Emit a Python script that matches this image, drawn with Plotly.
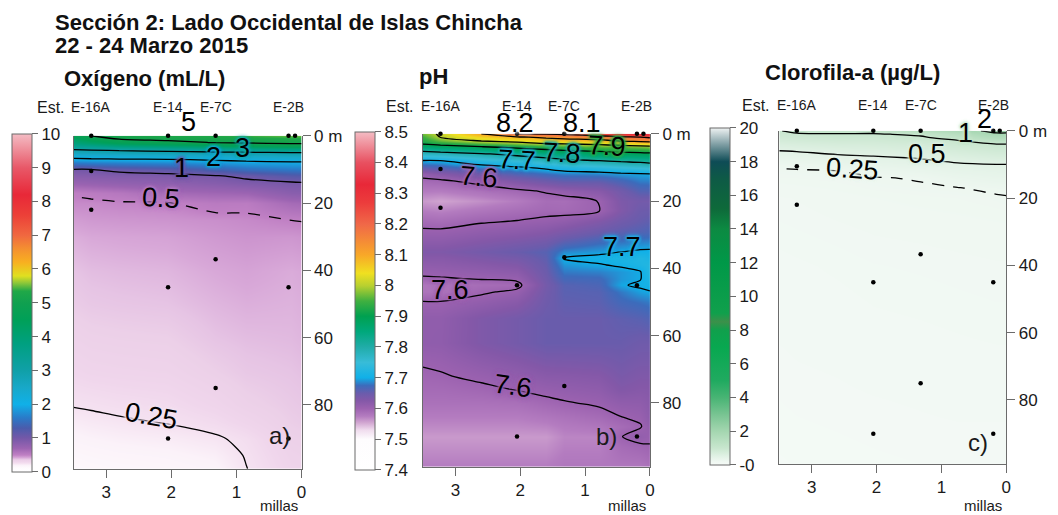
import numpy as np
import plotly.graph_objects as go

FONT = "Liberation Sans, Arial, Helvetica, sans-serif"
INK = "#1a1a1a"
AXIS = "#6b6b6b"
W, H = 1058, 515

# ---------------- sampling stations ----------------
station_names = ["E-16A", "E-14", "E-7C", "E-2B"]
station_miles = [3.23, 2.05, 1.32, 0.2]
sample_miles = [3.23, 2.05, 1.32, 0.2, 0.1, 3.23, 3.23, 1.32, 2.05, 0.2, 1.32, 2.05, 0.2]
sample_depths = [0, 0, 0, 0, 0, 10.5, 22, 36.7, 45, 45, 75, 90, 90]

# ---------------- dissolved oxygen (mL/L) ----------------
# one profile per distance offshore (miles), values at ox_depths
ox_miles = [0, 0.15, 0.85, 1.32, 2.05, 2.8, 3.23, 3.5]
ox_depths = [0, 1, 2, 3, 4, 5, 6, 7, 8, 10, 12, 14, 17, 20, 25, 30, 40, 50, 60, 70, 80, 85, 90, 95, 99]
ox_profiles = [
    [5.5, 5.3, 5.13, 4.74, 3.87, 3.0, 2.62, 2.23, 1.93, 1.58, 1.23, 0.98, 0.85, 0.66, 0.505, 0.46, 0.42, 0.41, 0.40, 0.385, 0.37, 0.36, 0.345, 0.33, 0.32],
    [5.5, 5.3, 5.13, 4.74, 3.87, 3.0, 2.62, 2.23, 1.93, 1.57, 1.21, 0.97, 0.84, 0.65, 0.502, 0.455, 0.415, 0.405, 0.395, 0.38, 0.365, 0.355, 0.34, 0.325, 0.315],
    [5.4, 5.25, 5.08, 4.57, 3.7, 2.92, 2.54, 2.15, 1.88, 1.47, 1.06, 0.92, 0.70, 0.53, 0.48, 0.46, 0.43, 0.41, 0.39, 0.37, 0.34, 0.31, 0.27, 0.255, 0.248],
    [5.35, 5.2, 5.03, 4.36, 3.56, 2.88, 2.48, 2.08, 1.81, 1.33, 0.97, 0.87, 0.68, 0.54, 0.47, 0.45, 0.42, 0.40, 0.38, 0.35, 0.31, 0.28, 0.24, 0.21, 0.19],
    [5.3, 5.13, 4.85, 4.11, 3.37, 2.8, 2.4, 2.0, 1.71, 1.14, 0.92, 0.81, 0.65, 0.495, 0.46, 0.43, 0.40, 0.38, 0.35, 0.32, 0.28, 0.255, 0.22, 0.19, 0.17],
    [5.2, 5.0, 4.6, 3.9, 3.2, 2.75, 2.36, 1.97, 1.66, 1.07, 0.9, 0.78, 0.56, 0.49, 0.455, 0.425, 0.395, 0.375, 0.345, 0.315, 0.27, 0.24, 0.21, 0.18, 0.16],
    [5.0, 4.75, 4.2, 3.6, 3.1, 2.69, 2.31, 1.94, 1.63, 1.0, 0.875, 0.75, 0.53, 0.48, 0.45, 0.42, 0.39, 0.37, 0.34, 0.31, 0.26, 0.23, 0.20, 0.17, 0.15],
    [4.7, 4.3, 3.9, 3.5, 3.05, 2.65, 2.27, 1.91, 1.59, 0.99, 0.86, 0.73, 0.51, 0.48, 0.44, 0.41, 0.38, 0.36, 0.33, 0.30, 0.255, 0.22, 0.19, 0.16, 0.14],
]
ox_levels = [0.25, 0.5, 1, 2, 3, 5]
ox_dashed = [0.5]
ox_ticks = list(range(0, 11))

# ---------------- pH ----------------
ph_miles = [0, 0.15, 0.45, 0.78, 1.32, 1.6, 2.05, 2.6, 3.23, 3.5]
ph_depths = [0, 1, 2, 3, 4, 5, 6, 8, 10, 12, 14, 17, 20, 23, 26, 29, 32, 35, 37, 39, 41, 43, 45, 47,
             50, 55, 62, 68, 72, 76, 80, 84, 87, 90, 93, 99]
ph_profiles = [
    [8.36, 8.214, 8.136, 8.05, 7.976, 7.929, 7.887, 7.823, 7.757, 7.698, 7.683, 7.662, 7.64, 7.648, 7.655, 7.666, 7.685, 7.704,
     7.714, 7.725, 7.726, 7.718, 7.71, 7.698, 7.681, 7.663, 7.645, 7.636, 7.63, 7.624, 7.62, 7.617, 7.611, 7.605, 7.598, 7.585],
    [8.33, 8.2, 8.129, 8.04, 7.971, 7.924, 7.883, 7.817, 7.75, 7.696, 7.682, 7.661, 7.64, 7.646, 7.651, 7.662, 7.683, 7.704,
     7.721, 7.718, 7.698, 7.698, 7.705, 7.694, 7.677, 7.659, 7.645, 7.636, 7.63, 7.623, 7.614, 7.605, 7.598, 7.61, 7.595, 7.58],
    [8.3, 8.186, 8.114, 8.027, 7.967, 7.919, 7.879, 7.81, 7.743, 7.692, 7.668, 7.642, 7.632, 7.629, 7.642, 7.657, 7.678, 7.699,
     7.72, 7.704, 7.691, 7.691, 7.697, 7.68, 7.671, 7.655, 7.65, 7.641, 7.635, 7.627, 7.613, 7.6, 7.59, 7.599, 7.59, 7.58],
    [8.25, 8.164, 8.08, 8.013, 7.96, 7.91, 7.871, 7.8, 7.733, 7.685, 7.655, 7.621, 7.601, 7.6, 7.627, 7.648, 7.672, 7.693,
     7.708, 7.698, 7.683, 7.672, 7.666, 7.66, 7.657, 7.65, 7.65, 7.635, 7.624, 7.614, 7.604, 7.591, 7.58, 7.57, 7.573, 7.58],
    [8.22, 8.136, 8.063, 8.0, 7.947, 7.896, 7.858, 7.784, 7.722, 7.682, 7.654, 7.611, 7.588, 7.592, 7.611, 7.633, 7.658, 7.686,
     7.702, 7.69, 7.68, 7.67, 7.66, 7.658, 7.655, 7.65, 7.65, 7.633, 7.621, 7.61, 7.598, 7.584, 7.576, 7.57, 7.573, 7.58],
    [8.21, 8.118, 8.053, 7.994, 7.935, 7.883, 7.842, 7.77, 7.709, 7.675, 7.646, 7.603, 7.589, 7.593, 7.606, 7.624, 7.642, 7.66,
     7.656, 7.652, 7.648, 7.644, 7.64, 7.642, 7.645, 7.65, 7.65, 7.632, 7.62, 7.607, 7.594, 7.58, 7.57, 7.56, 7.565, 7.575],
    [8.2, 8.088, 8.029, 7.971, 7.912, 7.864, 7.818, 7.75, 7.694, 7.663, 7.631, 7.594, 7.575, 7.588, 7.601, 7.617, 7.634, 7.65,
     7.639, 7.628, 7.617, 7.606, 7.592, 7.606, 7.62, 7.64, 7.64, 7.623, 7.612, 7.601, 7.587, 7.575, 7.568, 7.56, 7.565, 7.575],
    [8.1, 8.055, 8.009, 7.95, 7.89, 7.84, 7.794, 7.731, 7.682, 7.646, 7.611, 7.584, 7.565, 7.581, 7.597, 7.612, 7.626, 7.64,
     7.631, 7.621, 7.612, 7.602, 7.589, 7.596, 7.61, 7.63, 7.63, 7.615, 7.605, 7.595, 7.585, 7.575, 7.568, 7.56, 7.565, 7.575],
    [8.01, 8.002, 7.964, 7.918, 7.87, 7.82, 7.777, 7.7, 7.662, 7.623, 7.595, 7.575, 7.555, 7.572, 7.588, 7.604, 7.617, 7.63,
     7.622, 7.615, 7.607, 7.598, 7.583, 7.582, 7.601, 7.613, 7.614, 7.604, 7.598, 7.591, 7.585, 7.575, 7.568, 7.56, 7.565, 7.575],
    [7.97, 7.948, 7.926, 7.904, 7.86, 7.81, 7.77, 7.698, 7.654, 7.611, 7.592, 7.576, 7.56, 7.575, 7.59, 7.604, 7.617, 7.63,
     7.622, 7.614, 7.606, 7.597, 7.582, 7.582, 7.601, 7.613, 7.613, 7.602, 7.596, 7.591, 7.585, 7.575, 7.568, 7.56, 7.565, 7.575],
]
ph_levels = [7.6, 7.7, 7.8, 7.9, 8.0, 8.1, 8.2]
ph_dashed = []
ph_ticks = [7.4, 7.5, 7.6, 7.7, 7.8, 7.9, 8.0, 8.1, 8.2, 8.3, 8.4, 8.5]

# ---------------- chlorophyll-a (ug/L) ----------------
chl_miles = [0, 0.15, 0.75, 1.32, 2.05, 2.6, 3.23, 3.5]
chl_depths = [0, 1, 2, 3, 4, 6, 8, 10, 12, 14, 17, 20, 30, 40, 60, 80, 99]
chl_profiles = [
    [2.2, 1.88, 1.57, 1.25, 0.98, 0.82, 0.66, 0.5, 0.44, 0.375, 0.28, 0.24, 0.2, 0.18, 0.155, 0.125, 0.1],
    [2.2, 1.88, 1.57, 1.25, 0.984, 0.82, 0.656, 0.497, 0.434, 0.37, 0.275, 0.235, 0.2, 0.18, 0.155, 0.125, 0.1],
    [1.7, 1.43, 1.16, 0.97, 0.894, 0.742, 0.59, 0.471, 0.4, 0.329, 0.245, 0.225, 0.195, 0.175, 0.15, 0.125, 0.1],
    [1.4, 1.067, 0.943, 0.871, 0.8, 0.657, 0.514, 0.425, 0.342, 0.258, 0.238, 0.22, 0.19, 0.17, 0.145, 0.12, 0.1],
    [1.15, 0.963, 0.89, 0.816, 0.743, 0.596, 0.469, 0.382, 0.294, 0.243, 0.228, 0.21, 0.185, 0.165, 0.14, 0.115, 0.095],
    [1.1, 0.983, 0.9, 0.817, 0.733, 0.567, 0.44, 0.34, 0.245, 0.232, 0.215, 0.2, 0.175, 0.155, 0.13, 0.11, 0.09],
    [1.1, 0.947, 0.86, 0.772, 0.684, 0.509, 0.392, 0.278, 0.24, 0.225, 0.205, 0.185, 0.165, 0.145, 0.125, 0.105, 0.085],
    [0.98, 0.9, 0.82, 0.74, 0.65, 0.494, 0.38, 0.267, 0.238, 0.223, 0.2, 0.18, 0.16, 0.14, 0.12, 0.1, 0.08],
]
chl_levels = [0.25, 0.5, 1, 2]
chl_dashed = [0.25]
chl_ticks = list(range(0, 21, 2))
chl_ticktext = ["-0"] + [str(v) for v in chl_ticks[1:]]

# ---------------- colour scales ----------------
ox_scale = [
    [0.0, "#ffffff"], [0.012, "#fefbfd"], [0.02, "#fbf2f9"], [0.025, "#f5e2f1"], [0.03, "#f0d6ec"],
    [0.035, "#ecd0e8"], [0.038, "#e6c4e4"], [0.042, "#d8a8d8"], [0.05, "#c080c4"], [0.07, "#9c64b2"],
    [0.1, "#7458a8"], [0.13, "#4a5cac"], [0.16, "#2a7ac8"], [0.2, "#10b0e8"], [0.25, "#18a8c8"],
    [0.3, "#10a0a8"], [0.38, "#00a080"], [0.45, "#00a058"], [0.5, "#10a050"], [0.535, "#20a848"],
    [0.56, "#90c838"], [0.58, "#e0e020"], [0.62, "#f8b020"], [0.66, "#f49030"], [0.7, "#f06840"],
    [0.76, "#ec4038"], [0.82, "#e82838"], [0.9, "#e85868"], [1.0, "#f4bcc4"],
]
ph_scale = [
    [0.0, "#ffffff"], [0.0909, "#fefcfe"], [0.118, "#f0dcee"], [0.141, "#d0a4d0"], [0.159, "#b47cc0"],
    [0.182, "#9c62b0"], [0.205, "#8458a8"], [0.227, "#6a5cac"], [0.25, "#3c6cbc"], [0.273, "#10b0e8"],
    [0.318, "#38bcd8"], [0.364, "#20aca8"], [0.409, "#00a87c"], [0.455, "#00a050"], [0.5, "#40b040"],
    [0.545, "#b8d030"], [0.582, "#f0e020"], [0.636, "#f8a828"], [0.727, "#f06848"], [0.791, "#ec3c3c"],
    [0.845, "#e82838"], [0.909, "#e85060"], [1.0, "#f4bcc4"],
]
chl_scale = [
    [0.0, "#f6fbf8"], [0.01, "#f0f8f2"], [0.025, "#e2f2e6"], [0.05, "#c8e6ce"], [0.1, "#a4d6b0"],
    [0.15, "#78c492"], [0.2, "#48b474"], [0.25, "#20aa60"], [0.35, "#08a850"], [0.4, "#10a04c"],
    [0.425, "#3c904a"], [0.45, "#10a04c"], [0.6, "#009848"], [0.7, "#0c8a42"], [0.76, "#0e6a3a"],
    [0.85, "#0e5a46"], [0.9, "#0e4c56"], [0.95, "#7c9ca2"], [1.0, "#eef2f2"],
]


def fmt(v):
    return f"{v:g}"


# panel layout in pixels: plot box (left, right, top, bottom) and colour bar (left, top, bottom)
panels = [
    dict(miles=ox_miles, depths=ox_depths, prof=ox_profiles, levels=ox_levels, dashed=ox_dashed,
         scale=ox_scale, zmin=0, zmax=10, ticks=ox_ticks, ticktext=[fmt(v) for v in ox_ticks],
         box=(74, 303, 129, 468), cbar=(12, 127, 471), tag="a)", tag_pos=(0.34, 89),
         station_gap=29, title="Oxígeno (mL/L)", title_xy=(62, 70.5),
         labels=[(5, 1.73, -2.6, 0, "#ffffff"), (3, 0.90, 5.2, 0, "#14a8b4"), (2, 1.36, 7.9, 0, "#12a8d8"),
                 (1, 1.85, 11.1, 0, "#6a58a8"), (0.5, 2.16, 20.1, 4, "#b47ac2"),
                 (0.25, 2.31, 84.8, 10, "#f4e2f0")]),
    dict(miles=ph_miles, depths=ph_depths, prof=ph_profiles, levels=ph_levels, dashed=ph_dashed,
         scale=ph_scale, zmin=7.4, zmax=8.5, ticks=ph_ticks, ticktext=[fmt(v) for v in ph_ticks],
         box=(425, 653, 127, 466), cbar=(357, 125, 469), tag="b)", tag_pos=(0.67, 90),
         station_gap=28, title="pH", title_xy=(419, 68.5),
         labels=[(8.2, 2.08, -1.6, 0, "#ffffff"), (8.1, 1.04, -1.6, 0, "#ffffff"),
                 (7.9, 0.66, 5.2, 3, "#30ac48"), (7.8, 1.35, 7.3, 3, "#22aca8"),
                 (7.7, 2.05, 9.3, 3, "#2ab4dc"), (7.6, 2.63, 14.6, 5, "#a066b2"),
                 (7.7, 0.43, 35.3, 0, "#22b0e4"), (7.6, 3.08, 48.0, 0, "#a064b2"),
                 (7.6, 2.11, 76.7, 8, "#9a62b0")]),
    dict(miles=chl_miles, depths=chl_depths, prof=chl_profiles, levels=chl_levels, dashed=chl_dashed,
         scale=chl_scale, zmin=0, zmax=20, ticks=chl_ticks, ticktext=chl_ticktext,
         box=(783, 1011, 124, 463), cbar=(713, 121, 464), tag="c)", tag_pos=(0.43, 92.5),
         station_gap=26, title="Clorofila-a (µg/L)", title_xy=(767, 65),
         labels=[(2, 0.34, -1.9, 0, "#ffffff"), (1, 0.63, 2.3, 0, "#c6e6cc"),
                 (0.5, 1.22, 8.5, 0, "#dcefe0"), (0.25, 2.37, 12.9, 4, "#eaf5ec")]),
]

DEPTH_MAX = 99
fig = go.Figure()
annotations = []
layout_axes = {}

for i, p in enumerate(panels):
    n = "" if i == 0 else str(i + 1)
    xref, yref = "x" + n, "y" + n
    z = np.array(p["prof"]).T
    left, right, top, bottom = p["box"]
    box_h = bottom - top
    cb_left, cb_top, cb_bottom = p["cbar"]

    fig.add_trace(go.Heatmap(
        x=p["miles"], y=p["depths"], z=z, zsmooth="best",
        colorscale=p["scale"], zmin=p["zmin"], zmax=p["zmax"],
        xaxis=xref, yaxis=yref, hoverinfo="skip",
        colorbar=dict(
            x=cb_left / W, xanchor="left", xpad=0,
            y=1 - cb_top / H, yanchor="top", ypad=0,
            len=(cb_bottom - cb_top) / H, lenmode="fraction",
            thickness=20, thicknessmode="pixels",
            outlinewidth=1, outlinecolor=AXIS, borderwidth=0,
            ticks="outside", ticklen=6, tickwidth=1, tickcolor=AXIS,
            tickvals=p["ticks"], ticktext=p["ticktext"],
            tickfont=dict(size=17, color=INK, family=FONT),
        ),
    ))

    for lv in p["levels"]:
        fig.add_trace(go.Contour(
            x=p["miles"], y=p["depths"], z=z, autocontour=False,
            contours=dict(start=lv, end=lv, size=1, coloring="none", showlabels=False),
            line=dict(color="black", width=1.3, smoothing=0.85,
                      dash="12px,9px" if lv in p["dashed"] else "solid"),
            showscale=False, hoverinfo="skip", xaxis=xref, yaxis=yref,
        ))

    fig.add_trace(go.Scatter(
        x=sample_miles, y=sample_depths, mode="markers",
        marker=dict(size=4.5, color="black"), cliponaxis=False,
        hoverinfo="skip", xaxis=xref, yaxis=yref,
    ))

    layout_axes["xaxis" + n] = dict(
        domain=[left / W, right / W], anchor=yref, range=[3.5, 0],
        tickvals=[0, 1, 2, 3], ticks="outside", ticklen=8, tickwidth=1, tickcolor=AXIS,
        showline=True, linecolor=AXIS, linewidth=1.2, showgrid=False, zeroline=False,
        tickfont=dict(size=17, color=INK, family=FONT),
    )
    layout_axes["yaxis" + n] = dict(
        domain=[1 - bottom / H, 1 - top / H], anchor=xref, side="right", range=[DEPTH_MAX, 0],
        tickvals=[0, 20, 40, 60, 80], ticktext=["0 m", "20", "40", "60", "80"],
        ticks="outside", ticklen=8, tickwidth=1, tickcolor=AXIS,
        showline=True, mirror=True, linecolor=AXIS, linewidth=1.2,
        showgrid=False, zeroline=False, tickfont=dict(size=17, color=INK, family=FONT),
    )

    ydom = yref + " domain"
    # contour value labels (depth converted to a fraction of the plot height so that
    # labels sitting just above the sea surface are still drawn)
    for lv, lx, ly, ang, bg in p["labels"]:
        halo = ", ".join([f"0 0 3px {bg}"] * 3 + [f"0 0 5px {bg}"] * 2)
        annotations.append(dict(
            x=lx, y=1 - ly / DEPTH_MAX + 5.5 / box_h, xref=xref, yref=ydom,
            xanchor="center", yanchor="middle",
            text=fmt(lv), showarrow=False, textangle=ang,
            font=dict(size=27, color="black", family=FONT, shadow=halo),
        ))

    # station names above the section
    sy = 1 + p["station_gap"] / box_h
    annotations.append(dict(x=-23 / (right - left), y=sy, xref=xref + " domain", yref=ydom, text="Est.",
                            xanchor="center", yanchor="middle",
                            showarrow=False, font=dict(size=16, color=INK, family=FONT)))
    for name, mx in zip(station_names, station_miles):
        annotations.append(dict(x=mx, y=sy, xref=xref, yref=ydom, text=name, showarrow=False,
                                xanchor="center", yanchor="middle",
                                font=dict(size=14, color=INK, family=FONT)))

    annotations.append(dict(x=p["tag_pos"][0], y=p["tag_pos"][1], xref=xref, yref=yref, text=p["tag"],
                            xanchor="center", yanchor="middle",
                            showarrow=False, font=dict(size=24, color=INK, family=FONT)))
    annotations.append(dict(x=(right - 3) / W, y=0, xref="paper", yref="paper", text="millas",
                            xanchor="right", yanchor="bottom", borderpad=0, showarrow=False,
                            font=dict(size=15, color=INK, family=FONT)))
    tx, ty = p["title_xy"]
    annotations.append(dict(x=tx / W, y=1 - ty / H, xref="paper", yref="paper", text=f"<b>{p['title']}</b>",
                            xanchor="left", yanchor="middle", showarrow=False,
                            font=dict(size=22, color="#111111", family=FONT)))

annotations.append(dict(x=53 / W, y=1 - 13.5 / H, xref="paper", yref="paper",
                        text="<b>Sección 2: Lado Occidental de Islas Chincha</b>",
                        xanchor="left", yanchor="middle", showarrow=False,
                        font=dict(size=22, color="#111111", family=FONT)))
annotations.append(dict(x=53 / W, y=1 - 37.5 / H, xref="paper", yref="paper",
                        text="<b>22 - 24 Marzo 2015</b>",
                        xanchor="left", yanchor="middle", showarrow=False,
                        font=dict(size=22, color="#111111", family=FONT)))

fig.update_layout(
    width=W, height=H, margin=dict(l=0, r=0, t=0, b=0),
    paper_bgcolor="white", plot_bgcolor="white", showlegend=False,
    annotations=annotations, **layout_axes,
)

fig.write_html("out.html")
